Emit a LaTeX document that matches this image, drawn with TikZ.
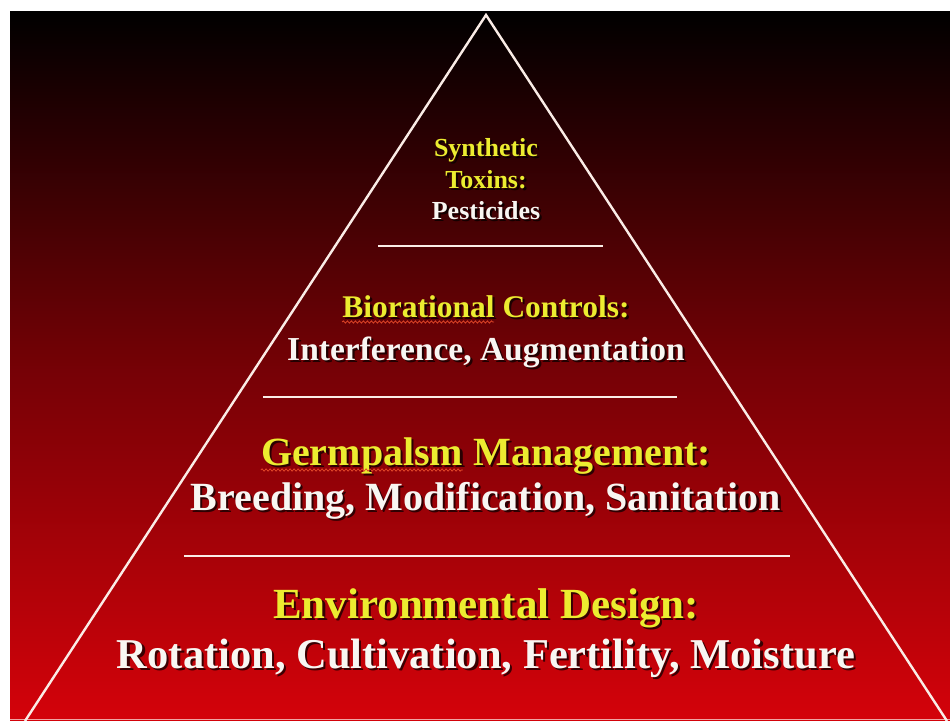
\documentclass[tikz,border=0pt]{standalone}
\usepackage{fontspec}
\setmainfont{Liberation Serif}
\usetikzlibrary{calc,decorations.pathmorphing}

\definecolor{tieryellow}{RGB}{236,236,48}
\definecolor{tierwhite}{RGB}{248,246,242}
\definecolor{deepred}{RGB}{212,2,10}
\definecolor{edgewhite}{RGB}{250,236,230}
\definecolor{squigred}{RGB}{225,70,40}

\tikzset{
  tiertext/.style={inner sep=0pt, anchor=base, align=center},
  edgeline/.style={draw=edgewhite, line width=2.4pt, line join=miter},
  sepline/.style={draw=edgewhite, line width=2pt},
  squiggle/.style={draw=squigred, line width=0.8pt,
    decorate, decoration={snake, amplitude=1.1pt, segment length=4pt}},
}

% one line of text with a soft drop shadow
% #1 name, #2 x, #3 baseline y, #4 size, #5 colour, #6 text
\newcommand\tierline[6]{%
  \node[tiertext, text=black, opacity=.7,
        font=\bfseries\fontsize{#4}{#4}\selectfont]
        (#1-sh) at ($(#2,#3)+(2.2,2.2)$) {#6};
  \node[tiertext, text=#5,
        font=\bfseries\fontsize{#4}{#4}\selectfont]
        (#1) at (#2,#3) {#6};%
}

\begin{document}
\begin{tikzpicture}[x=1pt,y=-1pt]
  \useasboundingbox (0,0) rectangle (950,720);
  \fill[white] (0,0) rectangle (950,720);

  % slide background: black at the top fading to red
  \shade[top color=black, bottom color=deepred, middle color=deepred!55!black]
    (10,11) rectangle (950,720);
  \draw[draw=edgewhite!70!deepred, line width=1pt] (10,719.5) -- (950,719.5);

  % pyramid outline
  \coordinate (apex) at (486,15);
  \coordinate (baseL) at (25,721);
  \coordinate (baseR) at (947,721);
  \draw[edgeline] (baseL) -- (apex) -- (baseR);

  % tier separators
  \coordinate (s1a) at (378,246); \coordinate (s1b) at (603,246);
  \coordinate (s2a) at (263,397); \coordinate (s2b) at (677,397);
  \coordinate (s3a) at (184,556); \coordinate (s3b) at (790,556);
  \draw[sepline] (s1a) -- (s1b);
  \draw[sepline] (s2a) -- (s2b);
  \draw[sepline] (s3a) -- (s3b);

  % top tier
  \tierline{syn}{486}{156}{26}{tieryellow}{Synthetic}
  \tierline{tox}{486}{188}{26}{tieryellow}{Toxins:}
  \tierline{pes}{486}{219}{26}{tierwhite}{Pesticides}

  % second tier
  \tierline{bio}{486}{317}{31.5}{tieryellow}{Biorational Controls:}
  \tierline{int}{486}{360}{33.5}{tierwhite}{Interference, Augmentation}

  % third tier
  \tierline{ger}{486}{465}{40}{tieryellow}{Germpalsm Management:}
  \tierline{bre}{486}{510}{40}{tierwhite}{Breeding, Modification, Sanitation}

  % base tier
  \tierline{env}{486}{618}{43}{tieryellow}{Environmental Design:}
  \tierline{rot}{486}{668}{42.5}{tierwhite}{Rotation, Cultivation, Fertility, Moisture}

  % spelling marks under the misspelt words
  \draw[squiggle] ($(bio.base west)+(0,5)$) -- ++(152,0);
  \draw[squiggle] ($(ger.base west)+(0,5)$) -- ++(202,0);
\end{tikzpicture}
\end{document}
